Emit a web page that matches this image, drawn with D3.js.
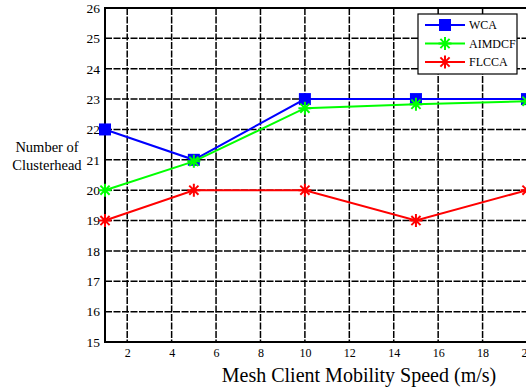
<!DOCTYPE html>
<html><head><meta charset="utf-8">
<script src="https://cdn.jsdelivr.net/npm/d3@7"></script>
<style>html,body{margin:0;padding:0;background:#fff;overflow:hidden}svg{display:block}</style>
</head><body><svg id="c" width="526" height="389"></svg>
<script>
const speeds = [1, 5, 10, 15, 20];
const wca = [22, 21, 23, 23, 23];
const aimdcf = [20, 20.95, 22.7, 22.83, 22.93];
const flcca = [19, 20, 20, 19, 20];
const seriesNames = ["WCA", "AIMDCF", "FLCCA"];
const seriesColors = ["#0000ff", "#00ff00", "#ff0000"];
const xTicks = [2, 4, 6, 8, 10, 12, 14, 16, 18, 20];
const yTicks = [15, 16, 17, 18, 19, 20, 21, 22, 23, 24, 25, 26];
const FONT = "Liberation Serif";

const svg = d3.select("#c");
const x = d3.scaleLinear().domain([1, 20]).range([105, 527]);
const y = d3.scaleLinear().domain([15, 26]).range([342, 8]);

// grid
const g = svg.append("g");
g.selectAll("line.v").data(xTicks).join("line")
  .attr("x1", d => x(d)).attr("x2", d => x(d)).attr("y1", y(26)).attr("y2", y(15))
  .attr("stroke", "#000").attr("stroke-width", 1.5).attr("stroke-dasharray", "7,1.5");
g.selectAll("line.h").data(yTicks.slice(1, -1)).join("line")
  .attr("y1", d => y(d)).attr("y2", d => y(d)).attr("x1", x(1)).attr("x2", x(20))
  .attr("stroke", "#000").attr("stroke-width", 1.5).attr("stroke-dasharray", "7,1.5");
// frame
svg.append("rect").attr("x", x(1)).attr("y", y(26)).attr("width", x(20) - x(1)).attr("height", y(15) - y(26))
  .attr("fill", "none").attr("stroke", "#000").attr("stroke-width", 2);

// axes
const xAxis = svg.append("g").attr("transform", `translate(0,${y(15)})`)
  .call(d3.axisBottom(x).tickValues(xTicks).tickSize(0).tickPadding(6));
xAxis.attr("font-family", FONT).attr("font-size", 12);
xAxis.select(".domain").remove();
xAxis.selectAll("text").attr("fill", "#000");
const yAxis = svg.append("g").attr("transform", `translate(${x(1)},0)`)
  .call(d3.axisLeft(y).tickValues(yTicks).tickSize(0).tickPadding(5));
yAxis.attr("font-family", FONT).attr("font-size", 13.5);
yAxis.select(".domain").remove();
yAxis.selectAll("text").attr("fill", "#000");

svg.append("text").attr("x", 359).attr("y", 382).attr("text-anchor", "middle")
  .attr("font-size", 20).attr("font-family", FONT).text("Mesh Client Mobility Speed (m/s)");
svg.append("text").attr("x", 47).attr("y", 152).attr("text-anchor", "middle")
  .attr("font-size", 14.5).attr("font-family", FONT).text("Number of");
svg.append("text").attr("x", 47).attr("y", 170).attr("text-anchor", "middle")
  .attr("font-size", 14.5).attr("font-family", FONT).text("Clusterhead");

const seriesData = [wca, aimdcf, flcca];
const line = d3.line().x((d, i) => x(speeds[i])).y(d => y(d));

function marker(sel, type, color, cx, cy) {
  if (type === 0) {
    sel.append("rect").attr("x", cx - 6).attr("y", cy - 6).attr("width", 12).attr("height", 12).attr("fill", color);
  } else {
    const r = 6.5;
    const p = [];
    for (let k = 0; k < 4; k++) {
      const a = k * Math.PI / 4 + Math.PI / 2;
      p.push(`M${cx - r * Math.cos(a)},${cy - r * Math.sin(a)}L${cx + r * Math.cos(a)},${cy + r * Math.sin(a)}`);
    }
    sel.append("path").attr("d", p.join("")).attr("stroke", color).attr("stroke-width", 2).attr("fill", "none");
  }
}

seriesData.forEach((s, si) => {
  const gs = svg.append("g");
  gs.append("path").attr("d", line(s)).attr("fill", "none").attr("stroke", seriesColors[si]).attr("stroke-width", 2);
  s.forEach((v, i) => marker(gs, si, seriesColors[si], x(speeds[i]), y(v)));
});

// legend
const lg = svg.append("g");
lg.append("rect").attr("x", 418).attr("y", 14).attr("width", 99).attr("height", 60)
  .attr("fill", "#fff").attr("stroke", "#000").attr("stroke-width", 1.2);
seriesNames.forEach((n, i) => {
  const ly = 25 + i * 18.5;
  lg.append("line").attr("x1", 425).attr("x2", 465).attr("y1", ly).attr("y2", ly)
    .attr("stroke", seriesColors[i]).attr("stroke-width", 2);
  marker(lg, i === 0 ? 0 : 1, seriesColors[i], 445, ly);
  lg.append("text").attr("x", 469).attr("y", ly + 4).attr("font-size", 12).attr("font-family", FONT).text(n);
});
</script></body></html>
